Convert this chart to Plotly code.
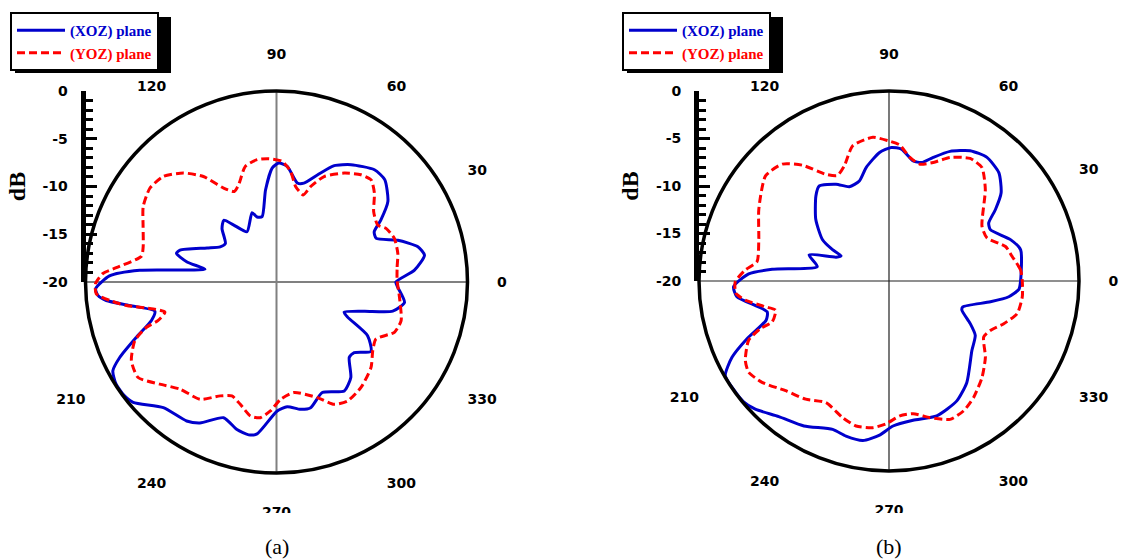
import plotly.graph_objects as go

# ---------------- data ----------------
# (a) XOZ plane
a_xoz_theta = [0, 4.9, 10.3, 14, 19, 23.6, 27.2, 30.7, 35.9, 43.4, 48.9, 57.6, 63.6, 69.1, 74.5, 78.1,
               84.7, 88.9, 92.2, 96.8, 102.4, 106.6, 109.4, 120.4, 127, 130.5, 135.5, 143, 148, 153.9,
               161.7, 164, 167.4, 169.9, 175.1, 177.9, 182.1, 184.3, 186.2, 189.1, 193.5, 197.1, 201.5,
               205.7, 208.5, 212.3, 216.4, 220, 228, 237.1, 241.5, 248.7, 255, 259.7, 262.7, 270.3,
               274.9, 280.7, 285.2, 292.5, 301.9, 307.9, 314, 317.7, 323.7, 329.5, 333.7, 336, 341.6,
               345.9, 351, 357.6, 360]
a_xoz_db = [-7.5, -5.5, -4.25, -4.74, -6.56, -8.6, -8.5, -7.3, -5.6, -4.4, -4.4, -5.45, -6.4, -8.0,
            -9.26, -9.4, -7.84, -7.54, -8.07, -10.3, -13.0, -12.9, -12.3, -13.9, -12.5, -11.5, -12.0,
            -13.3, -13.05, -11.9, -9.36, -9.1, -10.4, -12.4, -5.63, -2.5, -1.05, -1.25, -2.07, -4.44,
            -6.9, -6.3, -4.24, -1.78, -0.5, -0.1, -0.1, -0.4, -2.3, -2.67, -3.2, -4.75, -4.0, -3.73,
            -3.97, -6.5, -6.9, -6.43, -6.36, -7.47, -6.57, -7.33, -9.03, -9.0, -7.73, -8.93, -11.7,
            -12.25, -10.3, -7.45, -6.43, -7.3, -7.5]

# (a) YOZ plane
a_yoz_theta = [0.8, 7.1, 13.2, 20.3, 26.1, 29.4, 35.9, 42.2, 47.2, 51.8, 58.1, 65.7, 70.3, 72.9, 78.7,
               82.7, 87.3, 93.6, 99, 105.1, 111.3, 115, 119.4, 124.7, 130.5, 137, 143.5, 150.5, 157.5,
               165.2, 169.2, 174.9, 177.2, 180.5, 183.7, 186.3, 188.9, 192.3, 195.1, 198, 199.2, 202.5,
               208.5, 214.6, 221.2, 228, 236.9, 243.7, 248.6, 253.5, 259, 263.2, 267.3, 272, 279,
               289.5, 295.2, 300.8, 308.7, 317.9, 324.5, 330.2, 336.9, 342.8, 353, 360.8]
a_yoz_db = [-7.37, -7.27, -6.95, -6.84, -7.23, -7.84, -7.44, -6.16, -5.42, -5.71, -6.57, -7.88, -9.38,
            -10.46, -9.8, -8.33, -7.35, -7.06, -7.03, -7.46, -9.08, -9.54, -8.72, -6.56, -4.99, -3.79,
            -3.5, -3.96, -4.88, -5.56, -5.6, -3.16, -1.8, -1.05, -1.08, -2.42, -4.09, -6.79, -7.9,
            -6.97, -5.59, -3.94, -2.71, -2.39, -3.76, -4.9, -5.34, -6.7, -7.19, -6.64, -5.7, -5.69,
            -6.48, -7.71, -8.28, -7.16, -5.84, -5.49, -5.85, -6.66, -7.62, -8.0, -6.58, -6.34, -7.03,
            -7.37]

# (b) XOZ plane
b_xoz_theta = [0, 13.3, 18.8, 26.9, 30.2, 33.9, 38.2, 44.6, 51.6, 58.1, 64.8, 70.3, 74.6, 78.6, 84.6,
               89, 94.2, 101.4, 106.5, 112.8, 118.7, 126.3, 130.7, 140, 148.2, 151, 152.3, 155.8,
               161.9, 168.6, 174.3, 177.1, 182.1, 185.9, 194.2, 197.7, 202.1, 205.9, 210, 215, 219.6,
               223.8, 230.9, 239.6, 249.2, 254.5, 260.7, 266.5, 271.6, 279.8, 289.5, 299.5, 307.5,
               320, 327.8, 332.3, 338.2, 340.7, 348.4, 352.5, 356.3, 360]
b_xoz_db = [-6.15, -5.76, -6.49, -8.04, -7.86, -6.5, -4.98, -3.76, -3.4, -3.84, -4.92, -6.18, -7.07,
            -7.1, -6.05, -5.94, -6.43, -7.82, -9.02, -9.23, -8.39, -7.59, -8.2, -9.94, -11.77, -13.2,
            -14.3, -13.9, -11.15, -12.3, -7.64, -5.21, -3.63, -3.91, -6.77, -6.42, -3.87, -1.63, -0.1,
            -0.05, -0.1, -0.5, -1.61, -2.31, -3.29, -3.06, -2.99, -3.75, -4.73, -5.12, -4.94, -5.5,
            -6.54, -8.61, -9.27, -10.34, -11.74, -11.77, -9.1, -7.28, -6.3, -6.15]

# (b) YOZ plane
b_yoz_theta = [0, 4.8, 11.25, 16.5, 23.7, 30.5, 43.6, 50.7, 56.5, 63.7, 69.5, 75.2, 80.4, 85.5, 90.4,
               96.4, 105, 111.2, 116, 120.6, 126.8, 132.4, 139.6, 151.2, 162.4, 171.6, 175.6, 180.3,
               184.6, 187.6, 191.8, 194.4, 199.3, 200.3, 202.9, 209, 213, 218.6, 226.7, 234.8, 242.6,
               251.3, 257.2, 263.7, 268.9, 274.6, 280.3, 286.7, 293.8, 299.8, 306, 314, 321.7, 329.4,
               334, 339.6, 345.8, 353.2, 360]
b_yoz_db = [-5.97, -6.1, -6.78, -7.21, -8.73, -8.64, -6.0, -4.56, -4.53, -5.49, -6.68, -7.28, -6.81,
            -5.64, -5.23, -4.78, -5.26, -7.0, -7.63, -6.95, -4.78, -3.34, -2.93, -4.36, -5.62, -5.96,
            -4.83, -3.82, -3.83, -4.74, -6.71, -7.67, -6.97, -5.57, -3.96, -2.71, -2.38, -2.9, -4.13,
            -4.78, -5.58, -4.81, -4.35, -4.47, -4.98, -5.75, -5.81, -4.98, -4.08, -4.23, -4.85, -5.9,
            -7.07, -8.42, -8.13, -7.11, -6.07, -5.87, -5.97]

angle_ticks = [0, 30, 60, 90, 120, 210, 240, 270, 300, 330]
angle_labels = [str(v) for v in angle_ticks]
db_ticks = [0, -5, -10, -15, -20]
db_labels = ["0", "-5", "-10", "-15", "-20"]
db_minor = list(range(-20, 1))
db_range = [-20, 0]
series_names = ["(XOZ) plane", "(YOZ) plane"]
captions = ["(a)", "(b)"]

# ---------------- layout geometry ----------------
W, H = 1126, 560
BLUE = "#0000cc"
RED = "#ff0000"


def px_x(v):
    return v / W


def px_y(v):
    return 1 - v / H


panels = [
    dict(cx=276.5, cy=282, R=191, grid="#808080", gw=2.0),
    dict(cx=889, cy=281, R=190, grid="#202020", gw=1.2),
]

fig = go.Figure()

data_sets = [
    (a_xoz_theta, a_xoz_db, a_yoz_theta, a_yoz_db),
    (b_xoz_theta, b_xoz_db, b_yoz_theta, b_yoz_db),
]

for i, (p, ds) in enumerate(zip(panels, data_sets)):
    pid = "polar" if i == 0 else "polar2"
    leg = "legend" if i == 0 else "legend2"
    # crosshair grid
    for th in ([0, 0, 180], [90, 90, 270]):
        fig.add_trace(go.Scatterpolar(r=[db_range[1], db_range[0], db_range[1]], theta=th,
                                      mode="lines", line=dict(color=p["grid"], width=p["gw"]),
                                      showlegend=False, hoverinfo="skip", subplot=pid))
    xt, xd, yt, yd = ds
    fig.add_trace(go.Scatterpolar(
        r=xd, theta=xt, mode="lines", subplot=pid, legend=leg,
        name='<span style="color:%s">%s</span>' % (BLUE, series_names[0]),
        line=dict(color=BLUE, width=3, shape="spline", smoothing=0.6)))
    fig.add_trace(go.Scatterpolar(
        r=yd, theta=yt, mode="lines", subplot=pid, legend=leg,
        name='<span style="color:%s">%s</span>' % (RED, series_names[1]),
        line=dict(color=RED, width=3, dash="8px,4px", shape="spline", smoothing=0.6)))

    polar = dict(
        domain=dict(x=[px_x(p["cx"] - p["R"]), px_x(p["cx"] + p["R"])],
                    y=[px_y(p["cy"] + p["R"]), px_y(p["cy"] - p["R"])]),
        bgcolor="rgba(0,0,0,0)",
        radialaxis=dict(range=db_range, visible=False, showgrid=False),
        angularaxis=dict(direction="counterclockwise", rotation=0,
                         tickvals=angle_ticks, ticktext=angle_labels,
                         tickfont=dict(family="DejaVu Sans", size=14, color="black", weight="bold"),
                         showgrid=False, showline=True, linecolor="black", linewidth=3.5,
                         ticks="outside", ticklen=25, tickcolor="rgba(0,0,0,0)"),
    )
    fig.layout[pid] = polar

    # dB scale on the left edge of the circle
    xa = "xaxis" if i == 0 else "xaxis2"
    ya = "yaxis" if i == 0 else "yaxis2"
    xref = "x" if i == 0 else "x2"
    yref = "y" if i == 0 else "y2"
    fig.add_trace(go.Scatter(x=[None], y=[None], xaxis=xref, yaxis=yref,
                             showlegend=False, hoverinfo="skip"))
    fig.layout[xa] = dict(domain=[px_x(p["cx"] - p["R"]), px_x(p["cx"])], visible=False,
                          range=[0, 1], anchor=yref)
    fig.layout[ya] = dict(domain=[px_y(p["cy"]), px_y(p["cy"] - p["R"])], range=db_range,
                          anchor=xref, showgrid=False, zeroline=False,
                          showline=True, linecolor="black", linewidth=5,
                          ticks="inside", ticklen=11, tickwidth=3, tickcolor="black",
                          tickmode="array", tickvals=db_ticks, ticktext=db_labels,
                          minor=dict(tickmode="array", tickvals=db_minor, ticks="inside",
                                     ticklen=7, tickwidth=2.5, tickcolor="black"),
                          ticklabelstandoff=10,
                          tickfont=dict(family="DejaVu Sans", size=14, color="black", weight="bold"),
                          title=dict(text="<b>dB</b>", standoff=12,
                                     font=dict(family="Liberation Serif", size=24, color="black")))

legend_style = dict(xanchor="left", yanchor="top", bgcolor="white", bordercolor="black",
                    borderwidth=2, tracegroupgap=0, itemwidth=48,
                    font=dict(family="Liberation Serif", size=15, color="black", weight="bold"))

fig.update_layout(
    width=W, height=H, margin=dict(l=0, r=0, t=0, b=0, autoexpand=False),
    paper_bgcolor="white", plot_bgcolor="rgba(0,0,0,0)",
    legend=dict(x=px_x(10), y=px_y(12), **legend_style),
    legend2=dict(x=px_x(622), y=px_y(12), **legend_style),
    showlegend=True,
)

# legend drop shadows
for lx in (10, 622):
    fig.add_shape(type="rect", xref="paper", yref="paper",
                  x0=px_x(lx + 5), x1=px_x(lx + 161), y0=px_y(73), y1=px_y(17),
                  fillcolor="black", line=dict(width=0), layer="below")

# crop line under the 270 labels (as in the source image)
fig.add_shape(type="rect", xref="paper", yref="paper", x0=0, x1=1,
              y0=px_y(528), y1=px_y(513), fillcolor="white", line=dict(width=0), layer="above")

for cap, p in zip(captions, panels):
    fig.add_annotation(text=cap, x=px_x(p["cx"]), y=px_y(546), xref="paper", yref="paper",
                       xanchor="center", yanchor="middle", showarrow=False,
                       font=dict(family="Liberation Serif", size=22, color="black"))

fig.write_html("out.html", config={"displayModeBar": False},
               post_script="document.body.style.margin='0';")
